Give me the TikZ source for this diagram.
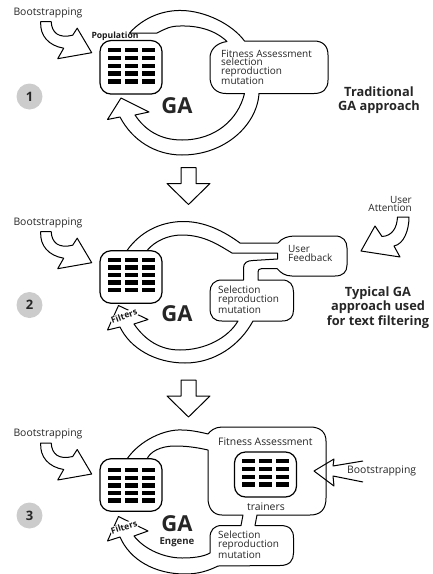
\documentclass[tikz,border=0pt]{standalone}
\usepackage{fontspec}
\setmainfont{Open Sans}
\tikzset{
 ol/.style={draw=black,line width=1pt,fill=white,line join=round},
 box/.style={draw=black,line width=1.2pt,fill=white,rounded corners=11pt},
 lab/.style={inner sep=0pt,font=\fontsize{10.4}{10.4}\selectfont,align=left,text=black!85},
 multi/.style={inner sep=0pt,font=\fontsize{10}{8.6}\selectfont,align=left,text=black!85},
 hd/.style={inner sep=0pt,font=\bfseries\fontsize{12.8}{14.3}\selectfont,align=center,text=black!85},
 ga/.style={inner sep=0pt,font=\bfseries\fontsize{22}{22}\selectfont,text=black!85},
 tiny/.style={inner sep=0.5pt,font=\bfseries\fontsize{8.6}{8.6}\selectfont,text=black!90},
 num/.style={circle,fill=black!20,minimum size=26pt,inner sep=0pt,font=\bfseries\fontsize{13}{13}\selectfont,text=black!85},
 boot/.pic={\path[ol] (0,0) -- (10.5,0) .. controls (11,11) and (18,17) .. (32,13.5) -- (36.5,6.5) -- (51,31) -- (17,37) -- (23,26.5) .. controls (8,24) and (-1,14) .. (0,0) -- cycle;},
 bigarrow/.pic={\path[ol] (-7.5,0) -- (7.5,0) -- (7.5,16) -- (21.5,16) -- (0,37) -- (-21.5,16) -- (-7.5,16) -- cycle;}
}
\newcommand{\grid}[5]{% x y rows rowstep colstep
 \foreach \rr in {1,...,#3}{\foreach \cc in {0,1,2}{
  \fill[black] ({#1+\cc*#5},{#2+(\rr-1)*#4}) rectangle ++(13,4.4);}}}
\begin{document}
\begin{tikzpicture}[x=1pt,y=-1pt]
\useasboundingbox (0,0) rectangle (433,574);
% ---------- panel 1
\path[ol] (129.5,33) .. controls (145,16) and (165,10) .. (182,10.5) .. controls (205,11) and (232,24) .. (244.5,41) -- (314,41) .. controls (323,41) and (328,46) .. (328,55) -- (328,80) .. controls (328,89) and (323,93.5) .. (314,93.5) -- (259,93.5) .. controls (257,125) and (225,155) .. (182,155) .. controls (155,155) and (132,140) .. (120,117) -- (107.5,119.5) -- (121,98) -- (149,112) -- (135,115) .. controls (145,130) and (160,140) .. (182,140) .. controls (215,140) and (238,120) .. (244.5,93.5) -- (226,93.5) .. controls (216,93.5) and (210,87) .. (210,77) -- (210,58) .. controls (210,50) and (216,43) .. (227,41.5) .. controls (215,30) and (198,25.5) .. (180,26) .. controls (170,26) and (165,29) .. (157,33) -- cycle;
\node[box,minimum width=62pt,minimum height=53.5pt,inner sep=0pt] (p1) at (131,67.3) {};
\grid{108}{48}{5}{7.8}{17}
\node[tiny] (pop) at (115,36.7) {Population};
\pic at (40.7,21.7) {boot};
\node[lab,anchor=west] (b1) at (13.3,13) {Bootstrapping};
\node[multi,anchor=north west] (f1) at (221,49.5) {Fitness Assessment\\selection\\reproduction\\mutation};
\node[ga] (ga1) at (177,106) {GA};
\node[hd] (t1) at (379,100) {Traditional\\GA approach};
\node[num] (n1) at (29.5,96.5) {1};
\pic at (188.5,167.5) {bigarrow};
% ---------- panel 2
\path[ol] (127,250.5) .. controls (140,232) and (160,222) .. (182,221.5) .. controls (205,221) and (225,232) .. (240,243) -- (278,243) .. controls (282,238) and (288,236) .. (295,236) -- (335,236) .. controls (343,236) and (347,241) .. (347,248) -- (347,265) .. controls (347,272) and (343,276) .. (335,276) -- (292,276) .. controls (285,276) and (281,273) .. (277,268.5) -- (262,268.5) .. controls (259,268.5) and (258,270) .. (258,272) -- (258,280) -- (282,280) .. controls (290,280) and (293.5,285) .. (293.5,292) -- (293.5,310) .. controls (293.5,317) and (290,321) .. (282,321) -- (253,321) .. controls (240,345) and (215,363) .. (185,363) .. controls (155,363) and (130,348) .. (120,327) -- (107.5,330) -- (118.5,305.5) -- (148,319.5) -- (134,324) .. controls (145,340) and (160,350) .. (180,350) .. controls (205,350) and (228,338) .. (238,321) -- (222,321) .. controls (214,321) and (210,317) .. (210,308) -- (210,292) .. controls (210,285) and (214,280) .. (222,280) -- (243.5,280) -- (243.5,268) .. controls (243.5,263) and (247,260.5) .. (253,260.5) -- (277.5,259) -- (277.5,253) -- (232,253) .. controls (220,246) and (205,235) .. (182,235) .. controls (168,235) and (155,241) .. (147,250.5) -- cycle;
\node[box,minimum width=62pt,minimum height=52.5pt,inner sep=0pt] (p2) at (131,277) {};
\grid{108}{257.5}{5}{7.6}{17}
\node[tiny,rotate=20,fill=white] (fl2) at (124,316) {Filters};
\pic at (40.7,231.7) {boot};
\node[lab,anchor=west] (b2) at (13.3,223) {Bootstrapping};
\node[multi,anchor=north west] (f2) at (288,245.5) {User\\Feedback};
\node[multi,anchor=north west] (s2) at (218,286) {Selection\\reproduction\\mutation};
\node[ga] (ga2) at (177,314) {GA};
\node[hd] (t2) at (378,307.5) {Typical GA\\approach used\\for text filtering};
\node[num] (n2) at (29.5,305) {2};
\node[multi,align=right,anchor=north east] (u2) at (412,196) {User\\Attention};
\path[ol] (409,217) -- (397.5,217) .. controls (397,228) and (392,236) .. (382,236.5) -- (375,226) -- (361,251) -- (400,257) -- (394,246) .. controls (404,244) and (409,230) .. (409,217) -- cycle;
\pic at (188.5,380) {bigarrow};
% ---------- panel 3
\path[ol] (127,459) .. controls (140,440) and (165,429) .. (182,430) .. controls (190,430) and (200,432) .. (208,434) .. controls (210,431) and (215,427) .. (222,427) -- (310,427) .. controls (320,427) and (326,432) .. (326,441) -- (326,498) .. controls (326,510) and (320,515) .. (310,515) -- (257,515) -- (255,525.5) -- (280,525.5) .. controls (290,525.5) and (293.5,530) .. (293.5,538) -- (293.5,553) .. controls (293.5,560) and (290,565.5) .. (280,565.5) -- (218,566) .. controls (208,571) and (198,574) .. (185,574) .. controls (155,574) and (130,560) .. (120,537) -- (107.5,541) -- (118.5,516.5) -- (148,531) -- (134,536) .. controls (145,550) and (165,558) .. (182,558) .. controls (192,558) and (203,557) .. (210,553) -- (210,538) .. controls (210,530) and (214,525.5) .. (222,525.5) -- (241,525.5) -- (243,515) -- (222,515) .. controls (213,515) and (208,508) .. (208,498) -- (208,450) .. controls (195,447) and (185,446) .. (175,446) .. controls (160,446) and (150,452) .. (147,459) -- cycle;
\node[box,minimum width=62pt,minimum height=52.5pt,inner sep=0pt] (p3) at (131,485) {};
\grid{108}{468}{5}{7.6}{17}
\node[box,minimum width=62pt,minimum height=45pt,inner sep=0pt] (p4) at (265.5,474.5) {};
\grid{242}{459}{4}{7.8}{16.8}
\node[tiny,rotate=18,fill=white] (fl3) at (124,527) {Filters};
\pic at (40.7,443) {boot};
\node[lab,anchor=west] (b3) at (13.3,434) {Bootstrapping};
\node[lab,anchor=west] (f3) at (218,442) {Fitness Assessment};
\node[lab,anchor=center] (tr) at (266,507) {trainers};
\node[multi,anchor=north west] (s3) at (218,531) {Selection\\reproduction\\mutation};
\node[ga] (ga3) at (177,524) {GA};
\node[inner sep=0pt,font=\bfseries\fontsize{9.6}{9.6}\selectfont,text=black!85] (en) at (177,542.5) {Engene};
\node[num] (n3) at (29.5,515.5) {3};
\path[draw=black,line width=1pt,line join=round] (363,461) -- (333,466) -- (334,459) -- (314,471) -- (334,486) -- (333,476) -- (363,482);
\node[lab,anchor=west] (b4) at (347,471) {Bootstrapping};
\end{tikzpicture}
\end{document}
